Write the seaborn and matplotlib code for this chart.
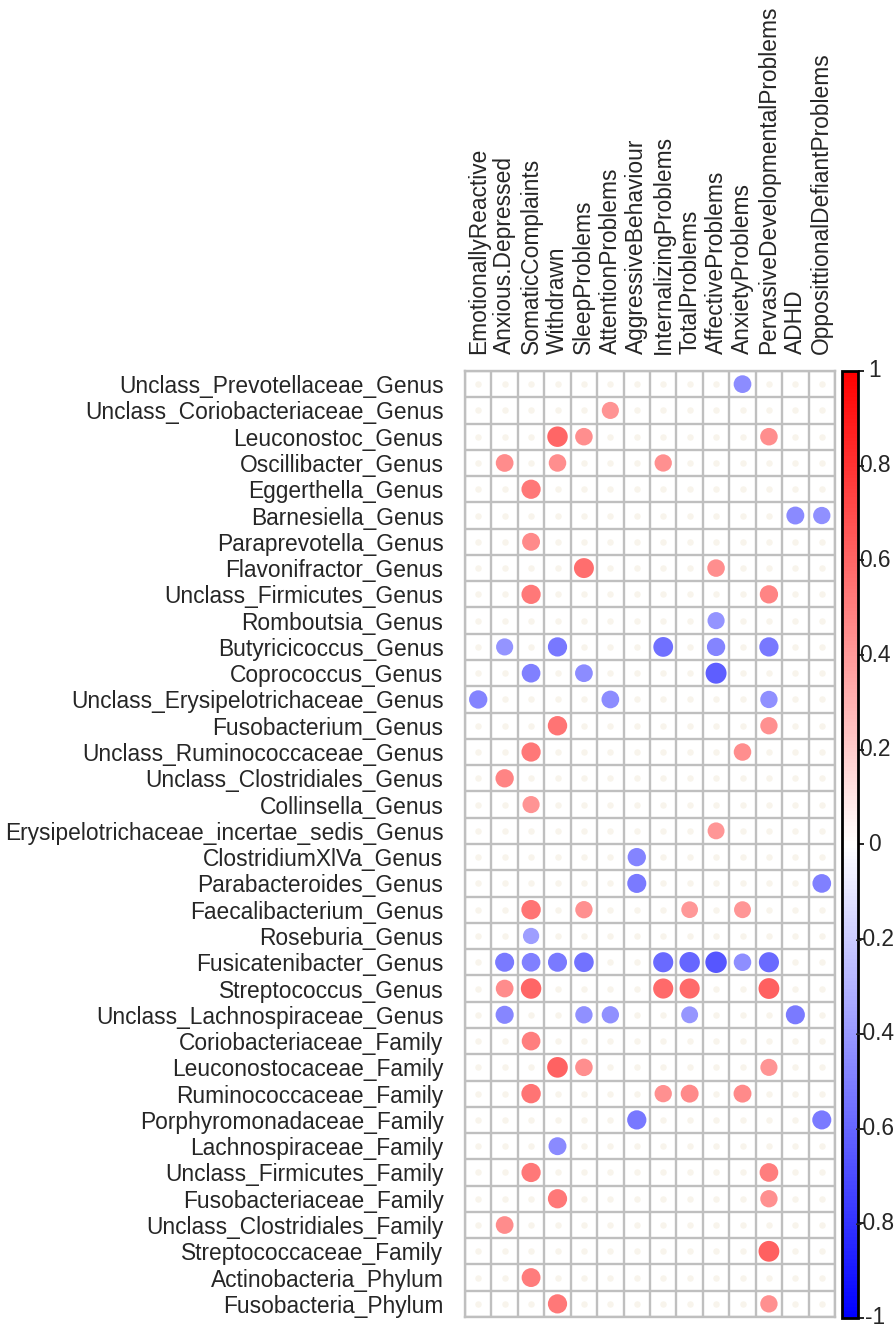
import matplotlib
matplotlib.use("Agg")
import matplotlib.pyplot as plt
from matplotlib.colors import LinearSegmentedColormap, Normalize
from matplotlib.cm import ScalarMappable
import seaborn as sns
import pandas as pd
import numpy as np

# ------------------------------------------------------------------
# data: taxa (rows), behaviour scales (columns), significant r values
# ------------------------------------------------------------------
taxa = [
    "Unclass_Prevotellaceae_Genus", "Unclass_Coriobacteriaceae_Genus",
    "Leuconostoc_Genus", "Oscillibacter_Genus", "Eggerthella_Genus",
    "Barnesiella_Genus", "Paraprevotella_Genus", "Flavonifractor_Genus",
    "Unclass_Firmicutes_Genus", "Romboutsia_Genus", "Butyricicoccus_Genus",
    "Coprococcus_Genus", "Unclass_Erysipelotrichaceae_Genus",
    "Fusobacterium_Genus", "Unclass_Ruminococcaceae_Genus",
    "Unclass_Clostridiales_Genus", "Collinsella_Genus",
    "Erysipelotrichaceae_incertae_sedis_Genus", "ClostridiumXlVa_Genus",
    "Parabacteroides_Genus", "Faecalibacterium_Genus", "Roseburia_Genus",
    "Fusicatenibacter_Genus", "Streptococcus_Genus",
    "Unclass_Lachnospiraceae_Genus", "Coriobacteriaceae_Family",
    "Leuconostocaceae_Family", "Ruminococcaceae_Family",
    "Porphyromonadaceae_Family", "Lachnospiraceae_Family",
    "Unclass_Firmicutes_Family", "Fusobacteriaceae_Family",
    "Unclass_Clostridiales_Family", "Streptococcaceae_Family",
    "Actinobacteria_Phylum", "Fusobacteria_Phylum",
]

scales = [
    "EmotionallyReactive", "Anxious.Depressed", "SomaticComplaints",
    "Withdrawn", "SleepProblems", "AttentionProblems", "AggressiveBehaviour",
    "InternalizingProblems", "TotalProblems", "AffectiveProblems",
    "AnxietyProblems", "PervasiveDevelopmentalProblems", "ADHD",
    "OpposittionalDefiantProblems",
]

# (row, column, correlation) for the coloured circles
sig_rows = [0, 1, 2, 2, 2, 3, 3, 3, 4, 5, 5, 6, 7, 7, 8, 8, 9,
            10, 10, 10, 10, 10, 11, 11, 11, 12, 12, 12, 13, 13, 14, 14,
            15, 16, 17, 18, 19, 19, 20, 20, 20, 20, 21,
            22, 22, 22, 22, 22, 22, 22, 22, 22,
            23, 23, 23, 23, 23, 24, 24, 24, 24, 24, 25,
            26, 26, 26, 27, 27, 27, 27, 28, 28, 29, 30, 30, 31, 31,
            32, 33, 34, 35, 35]
sig_cols = [10, 5, 3, 4, 11, 1, 3, 7, 2, 12, 13, 2, 4, 9, 2, 11, 9,
            1, 3, 7, 9, 11, 2, 4, 9, 0, 5, 11, 3, 11, 2, 10,
            1, 2, 9, 6, 6, 13, 2, 4, 8, 10, 2,
            1, 2, 3, 4, 7, 8, 9, 10, 11,
            1, 2, 7, 8, 11, 1, 4, 5, 8, 12, 2,
            3, 4, 11, 2, 7, 8, 10, 6, 13, 3, 2, 11, 3, 11,
            1, 11, 2, 3, 11]
sig_r = [-0.45, 0.42, 0.60, 0.44, 0.44, 0.45, 0.44, 0.43, 0.53, -0.46, -0.43,
         0.46, 0.57, 0.44, 0.53, 0.48, -0.42,
         -0.42, -0.53, -0.56, -0.48, -0.53, -0.50, -0.45, -0.63,
         -0.48, -0.45, -0.43, 0.54, 0.43, 0.53, 0.44,
         0.48, 0.42, 0.41, -0.48, -0.52, -0.50, 0.54, 0.43, 0.40, 0.41, -0.38,
         -0.52, -0.50, -0.52, -0.55, -0.58, -0.60, -0.66, -0.44, -0.58,
         0.45, 0.60, 0.58, 0.58, 0.62, -0.47, -0.43, -0.43, -0.41, -0.52, 0.50,
         0.61, 0.44, 0.42, 0.54, 0.43, 0.46, 0.46, -0.53, -0.52, -0.46,
         0.53, 0.50, 0.53, 0.43, 0.45, 0.62, 0.51, 0.53, 0.43]

# ------------------------------------------------------------------
df = pd.DataFrame({"row": sig_rows, "col": sig_cols, "r": sig_r})
df["absr"] = df["r"].abs()

grid = pd.DataFrame([(i, j) for i in range(len(taxa)) for j in range(len(scales))],
                    columns=["row", "col"])
empty = grid.merge(df[["row", "col"]], on=["row", "col"], how="left", indicator=True)
empty = empty[empty["_merge"] == "left_only"]

cmap = LinearSegmentedColormap.from_list("bwr_corr", ["#0000FF", "#FFFFFF", "#FF0000"])

sns.set_style("white")
plt.rcParams["font.family"] = ["Liberation Sans", "DejaVu Sans"]
FS = 16.4

W, H = 896, 1333
fig = plt.figure(figsize=(W / 100, H / 100), dpi=100)
gx0, gx1, gy0, gy1 = 465, 835, 371, 1317
ax = fig.add_axes([gx0 / W, 1 - gy1 / H, (gx1 - gx0) / W, (gy1 - gy0) / H])

cell_pt = (gx1 - gx0) / len(scales) * 0.72   # cell width in points
area_max = cell_pt ** 2

# faint placeholders in the empty cells
ax.scatter(empty["col"], empty["row"], s=area_max * 0.06, color="#f8f4ec",
           linewidths=0, zorder=2)

sns.scatterplot(data=df, x="col", y="row", hue="r", palette=cmap,
                hue_norm=(-1, 1), size="absr", sizes=(0, area_max),
                size_norm=(0, 1), linewidth=0, edgecolor="none",
                legend=False, ax=ax, zorder=3)

ax.set_xlim(-0.5, len(scales) - 0.5)
ax.set_ylim(len(taxa) - 0.5, -0.5)
ax.set_xticks(np.arange(-0.5, len(scales)), minor=True)
ax.set_yticks(np.arange(-0.5, len(taxa)), minor=True)
ax.grid(which="minor", color="#bfbfbf", linewidth=1.7)
ax.grid(which="major", visible=False)
ax.set_axisbelow(True)
for s in ax.spines.values():
    s.set_color("#bfbfbf")
    s.set_linewidth(1.7)

ax.xaxis.tick_top()
ax.set_xticks(range(len(scales)))
ax.set_xticklabels(scales, rotation=90, fontsize=FS)
ax.set_yticks(range(len(taxa)))
ax.set_yticklabels(taxa, fontsize=FS)
ax.tick_params(axis="x", which="both", length=0, pad=12)
ax.tick_params(axis="y", which="both", length=0, pad=15.5)
ax.set_xlabel("")
ax.set_ylabel("")

# colour legend
cax = fig.add_axes([842 / W, 1 - 1318 / H, 16 / W, 947 / H])
sm = ScalarMappable(norm=Normalize(-1, 1), cmap=cmap)
cb = fig.colorbar(sm, cax=cax, ticks=np.linspace(-1, 1, 11))
cb.outline.set_linewidth(2)
cb.outline.set_edgecolor("black")
cax.tick_params(length=4, width=1.2, color="black", labelright=False)
for v in np.linspace(-1, 1, 11):
    v = round(v, 1)
    lab = "0" if v == 0 else f"{v:g}"
    cax.text(2.05, (v + 1) / 2, lab, transform=cax.transAxes, ha="center",
             va="center", fontsize=FS)

fig.savefig("out.png", dpi=100, facecolor="white")
